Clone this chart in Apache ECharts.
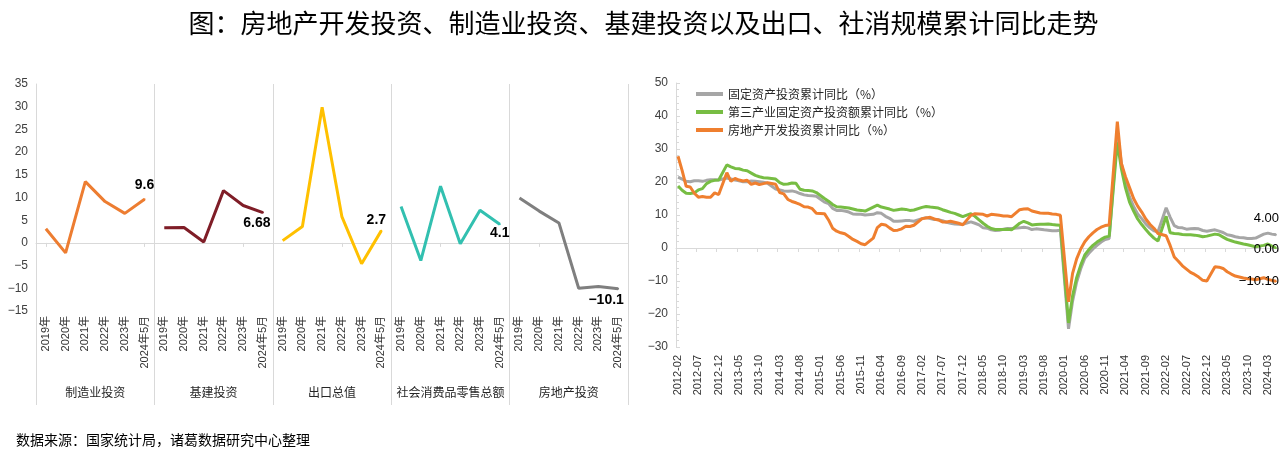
<!DOCTYPE html>
<html><head><meta charset="utf-8">
<script src="https://cdn.jsdelivr.net/npm/echarts@6/dist/echarts.min.js"></script>
<style>html,body{margin:0;padding:0;background:#fff}#c{width:1287px;height:450px}</style>
</head><body><div id="c"></div>
<script>
// ---------- Left panel data ----------
const groups = ["制造业投资", "基建投资", "出口总值", "社会消费品零售总额", "房地产投资"];
const periods = ["2019年", "2020年", "2021年", "2022年", "2023年", "2024年5月"];
const mfgInvest = [3.1, -2.2, 13.5, 9.1, 6.5, 9.6];
const infraInvest = [3.33, 3.41, 0.21, 11.52, 8.24, 6.68];
const exportValue = [0.5, 3.6, 29.9, 5.8, -4.6, 2.7];
const retailSales = [8.0, -3.9, 12.5, -0.2, 7.2, 4.1];
const realEstateInvest = [9.9, 7.0, 4.4, -10.0, -9.6, -10.1];
const leftColors = ["#ED7D31", "#7F1D27", "#FFC000", "#32C0B0", "#7F7F7F"];

// ---------- Right panel data (monthly, Jan = null) ----------
const faiYoY = [
  21.5,20.9,20.2,20.1,20.4,20.4,20.2,20.5,20.7,20.7,20.6,
  null,21.2,20.9,20.6,20.4,20.1,20.1,20.3,20.2,20.1,19.9,19.6,
  null,17.9,17.6,17.3,17.2,17.3,17.0,16.5,16.1,15.9,15.8,15.7,
  null,13.9,13.5,12.0,11.4,11.4,11.2,10.9,10.3,10.2,10.2,10.0,
  null,10.2,10.7,10.5,9.6,9.0,8.1,8.1,8.2,8.3,8.3,8.1,
  null,8.9,9.2,8.9,8.6,8.6,8.3,7.8,7.5,7.3,7.2,7.2,
  null,7.9,7.5,7.0,6.1,6.0,5.5,5.3,5.4,5.7,5.9,5.9,
  null,6.1,6.3,6.1,5.6,5.8,5.7,5.5,5.4,5.2,5.2,5.4,
  null,-24.5,-16.1,-10.3,-6.3,-3.1,-1.6,-0.3,0.8,1.8,2.6,2.9,
  null,35.0,25.6,19.9,15.4,12.6,10.3,8.9,7.3,6.1,5.2,4.9,
  null,12.2,9.3,6.8,6.2,6.1,5.7,5.8,5.9,5.8,5.3,5.1,
  null,5.5,5.1,4.7,4.0,3.8,3.4,3.2,3.1,2.9,2.9,3.0,
  null,4.2,4.5,4.2,4.0
];
const tertiaryYoY = [
  18.8,17.5,16.6,16.5,16.7,17.6,18.0,19.5,20.2,20.5,20.6,
  null,25.2,24.6,24.1,24.0,23.6,23.4,22.7,22.0,21.6,21.3,21.2,
  null,20.9,19.8,19.3,19.4,19.7,19.6,17.8,17.5,17.4,17.3,16.8,
  null,15.0,14.2,13.2,12.5,12.4,12.3,12.1,11.8,11.5,11.4,11.2,
  null,12.4,13.0,12.4,12.1,11.8,11.4,11.6,11.8,11.7,11.4,11.5,
  null,12.3,12.6,12.4,12.3,12.1,11.6,11.2,10.8,10.5,10.0,9.5,
  null,10.4,9.6,8.5,7.5,6.6,5.9,5.6,5.6,5.6,5.7,5.5,
  null,7.5,8.1,7.6,7.0,7.1,7.2,7.2,7.3,7.1,7.0,6.9,
  null,-22.7,-14.5,-9.0,-5.2,-2.1,-0.5,0.8,1.8,2.6,3.3,3.6,
  null,32.0,24.0,18.2,13.9,11.2,8.8,7.1,5.6,4.2,3.0,2.1,
  null,9.6,4.6,4.4,4.3,4.1,4.0,4.0,3.9,3.7,3.4,3.6,
  null,4.2,4.0,3.3,2.6,2.2,1.8,1.5,1.2,1.0,0.7,0.4,
  null,0.8,1.2,0.6,0.0
];
const realEstateYoY = [
  27.8,23.5,18.7,18.5,16.6,15.4,15.6,15.4,15.4,16.7,16.2,
  null,22.8,20.2,21.1,20.6,20.3,20.5,19.3,19.7,19.2,19.5,19.8,
  null,19.3,16.8,16.4,14.7,14.1,13.7,13.2,12.5,12.4,11.9,10.5,
  null,10.4,8.5,6.0,5.1,4.6,4.3,3.5,2.6,2.0,1.3,1.0,
  null,3.0,6.2,7.2,7.0,6.1,5.3,5.4,5.8,6.6,6.5,6.9,
  null,8.9,9.1,9.3,8.8,8.5,7.9,7.9,8.1,7.8,7.5,7.0,
  null,9.9,10.4,10.3,10.2,9.7,10.2,10.1,9.9,9.7,9.7,9.5,
  null,11.6,11.8,11.9,11.2,10.9,10.6,10.5,10.5,10.3,10.2,9.9,
  null,-16.3,-7.7,-3.3,-0.3,1.9,3.4,4.6,5.6,6.3,6.8,7.0,
  null,38.3,25.6,21.6,18.3,15.0,12.7,10.9,8.8,7.2,6.0,4.4,
  null,3.7,0.7,-2.7,-4.0,-5.4,-6.4,-7.4,-8.0,-8.8,-9.8,-10.0,
  null,-5.7,-5.8,-6.2,-7.2,-7.9,-8.5,-8.8,-9.1,-9.3,-9.4,-9.6,
  null,-9.0,-9.5,-9.8,-10.1
];
const rightNames = ["固定资产投资累计同比（%）", "第三产业固定资产投资额累计同比（%）", "房地产开发投资累计同比（%）"];
const rightColors = ["#A6A6A6", "#77BD43", "#EF7F2F"];

// month categories 2012-02 .. 2024-05
const monthCats = [];
for (let y = 2012; y <= 2024; y++) for (let m = 1; m <= 12; m++) {
  if ((y === 2012 && m < 2) || (y === 2024 && m > 5)) continue;
  monthCats.push(y + "-" + String(m).padStart(2, "0"));
}

const leftCats = [];
groups.forEach((g, gi) => periods.forEach(p => leftCats.push(gi + "|" + p)));

const minus = v => String(v).replace("-", "\u2212");
const FONT = "'Liberation Sans', 'Noto Sans CJK SC', sans-serif";
const CJK = "'Noto Sans CJK SC', sans-serif";

const leftData = [mfgInvest, infraInvest, exportValue, retailSales, realEstateInvest];
const leftLabelCfg = [
  {position: "top", distance: 6, offset: [0, 0]},
  {position: "bottom", distance: 3, offset: [-6, 0]},
  {position: "top", distance: 3, offset: [-5, 0]},
  {position: "bottom", distance: 1, offset: [0, 0]},
  {position: "bottom", distance: 3, offset: [-12, 0]}
];

const series = [];
leftData.forEach((arr, gi) => {
  const d = new Array(leftCats.length).fill(null);
  arr.forEach((v, k) => {
    const idx = gi * 6 + k;
    if (k === arr.length - 1) {
      d[idx] = {value: v, symbol: "circle", symbolSize: 2,
        label: Object.assign({show: true, fontWeight: "bold", fontSize: 14, color: "#000",
        fontFamily: FONT, formatter: p => minus(p.value)}, leftLabelCfg[gi])};
    } else d[idx] = v;
  });
  series.push({type: "line", name: groups[gi], xAxisIndex: 0, yAxisIndex: 0, data: d,
    symbol: "none", showAllSymbol: true, connectNulls: false, lineStyle: {width: 3, color: leftColors[gi]},
    itemStyle: {color: leftColors[gi]}, z: 3});
});

const rightData = [faiYoY, tertiaryYoY, realEstateYoY];
const rightOffsets = [[4, -16], [4, 1], [4, 0]];
rightData.forEach((arr, si) => {
  const d = arr.map((v, i) => i === arr.length - 1
    ? {value: v, symbol: "circle", symbolSize: 2,
        label: {show: true, position: "left", distance: 0, offset: rightOffsets[si], fontSize: 13,
        color: "#000", fontFamily: FONT, formatter: p => minus(p.value.toFixed(2))}}
    : v);
  series.push({type: "line", name: rightNames[si], xAxisIndex: 3, yAxisIndex: 1, data: d,
    symbol: "none", showAllSymbol: true, connectNulls: true, lineStyle: {width: 3, color: rightColors[si]},
    itemStyle: {color: rightColors[si]}, z: 3 + si});
});

const axisGray = "#D9D9D9";
const option = {
  animation: false,
  backgroundColor: "#fff",
  textStyle: {fontFamily: FONT},
  title: [
    {text: "图：房地产开发投资、制造业投资、基建投资以及出口、社消规模累计同比走势", left: "center", top: 5,
      textStyle: {fontSize: 26, fontWeight: "normal", color: "#000", fontFamily: CJK}},
    {text: "数据来源：国家统计局，诸葛数据研究中心整理", left: 11, top: 428,
      textStyle: {fontSize: 14, fontWeight: "normal", color: "#000", fontFamily: CJK}}
  ],
  legend: {data: rightNames, orient: "vertical", left: 691, top: 83, itemWidth: 27, itemHeight: 4,
    icon: "rect", itemGap: 6, textStyle: {fontSize: 12, color: "#262626", fontFamily: CJK}},
  grid: [
    {left: 36, top: 84, width: 592, height: 227},
    {left: 676, top: 83, width: 602, height: 264}
  ],
  xAxis: [
    {type: "category", gridIndex: 0, data: leftCats, boundaryGap: true,
      axisLine: {onZero: true, lineStyle: {color: axisGray, width: 1}},
      axisTick: {show: true, alignWithLabel: true, length: 4, lineStyle: {color: axisGray}},
      axisLabel: {show: false}, splitLine: {show: false}},
    {type: "category", gridIndex: 0, data: leftCats, position: "bottom", boundaryGap: true,
      axisLine: {show: false, onZero: false}, axisTick: {show: false},
      axisLabel: {show: true, interval: 0, rotate: 90, margin: 5, fontSize: 11, color: "#333",
        fontFamily: FONT, formatter: v => v.split("|")[1]}},
    {type: "category", gridIndex: 0, data: groups, position: "bottom", boundaryGap: true,
      axisLine: {show: false, onZero: false},
      axisTick: {show: true, length: 94, lineStyle: {color: axisGray}},
      axisLabel: {show: true, interval: 0, margin: 75, fontSize: 12, color: "#262626", fontFamily: CJK},
      splitLine: {show: true, lineStyle: {color: axisGray}}},
    {type: "category", gridIndex: 1, data: monthCats, boundaryGap: true,
      axisLine: {onZero: true, lineStyle: {color: axisGray}},
      axisTick: {show: true, interval: 4, length: 4, lineStyle: {color: axisGray}},
      axisLabel: {show: false}},
    {type: "category", gridIndex: 1, data: monthCats, position: "bottom", boundaryGap: true,
      axisLine: {show: false, onZero: false}, axisTick: {show: false},
      axisLabel: {show: true, interval: 4, rotate: 90, margin: 8, fontSize: 11, color: "#333", fontFamily: FONT}}
  ],
  yAxis: [
    {type: "value", gridIndex: 0, min: -15, max: 35, interval: 5,
      axisLine: {show: true, lineStyle: {color: axisGray}}, axisTick: {show: false},
      splitLine: {show: false},
      axisLabel: {fontSize: 12, color: "#404040", margin: 8, formatter: v => minus(v)}},
    {type: "value", gridIndex: 1, min: -30, max: 50, interval: 10,
      axisLine: {show: true, lineStyle: {color: axisGray}},
      axisTick: {show: true, inside: true, length: 4, lineStyle: {color: axisGray}},
      minorTick: {show: true, splitNumber: 5, length: 3, lineStyle: {color: axisGray}},
      splitLine: {show: false},
      axisLabel: {fontSize: 12, color: "#404040", margin: 8, formatter: v => minus(v)}}
  ],
  series: series
};
const chart = echarts.init(document.getElementById("c"), null, {renderer: "canvas"});
chart.setOption(option);
</script></body></html>
